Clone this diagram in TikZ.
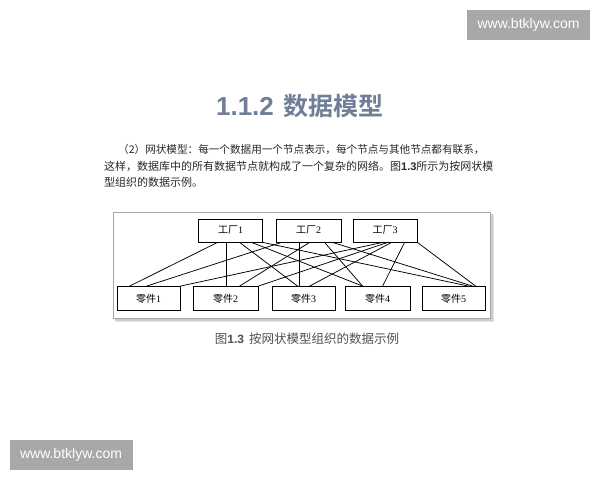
\documentclass[tikz,border=0pt]{standalone}
\usepackage{fontspec}
\newfontfamily\cjk{Noto Sans CJK SC}
\newfontfamily\cjkb{Noto Sans CJK SC Bold}
\newfontfamily\lat{Liberation Sans}
\newfontfamily\latser{Liberation Serif}
\definecolor{titlecol}{RGB}{112,126,152}
\definecolor{wmgray}{RGB}{168,168,168}
\definecolor{txtcol}{RGB}{40,40,40}
\definecolor{capcol}{RGB}{80,80,80}
\begin{document}
\begin{tikzpicture}[x=1pt,y=-1pt,
  box/.style={draw=black, line width=0.8pt, fill=white, inner sep=0pt, minimum height=23pt, font=\cjk\fontsize{10}{10}\selectfont},
  link/.style={draw=black, line width=0.75pt},
  wm/.style={fill=wmgray, text=white, inner sep=0pt, minimum width=123pt, minimum height=30pt, font=\lat\fontsize{14}{14}\selectfont},
  para/.style={anchor=west, inner sep=0pt, text=txtcol}]
\useasboundingbox (0,0) rectangle (600,480);
\fill[white] (0,0) rectangle (600,480);

% watermarks
\node[wm] (wm1) at (528.5,25) {www.btklyw.com};
\node[wm] (wm2) at (71,455) {www.btklyw.com};

% title
\node[inner sep=0pt, text=titlecol] (title) at (300,106) {{\lat\bfseries\fontsize{26}{26}\selectfont 1.1.2}\hspace{10pt}{\cjkb\fontsize{25}{25}\selectfont 数据模型}};

% paragraph
\node[para, font=\cjk\fontsize{10.6}{11}\selectfont] (l1) at (118,150) {（2）网状模型：每一个数据用一个节点表示，每个节点与其他节点都有联系，};
\node[para, font=\cjk\fontsize{11}{11}\selectfont] (l2) at (104,166) {这样，数据库中的所有数据节点就构成了一个复杂的网络。图{\lat\bfseries 1.3}所示为按网状模};
\node[para, font=\cjk\fontsize{11}{11}\selectfont] (l3) at (104,182) {型组织的数据示例。};

% frame with shadow
\fill[black!10] (116,215) rectangle (494,322);
\fill[black!20] (115,214) rectangle (492.5,320.5);
\fill[black!30] (114,213) rectangle (491,319);
\draw[black!35, fill=white] (113,212) rectangle (490,318);

% factories
\node[box, minimum width=64pt] (f1) at (230.5,230.5) {工厂{\latser 1}};
\node[box, minimum width=65pt] (f2) at (308.5,230.5) {工厂{\latser 2}};
\node[box, minimum width=64pt] (f3) at (385,230.5) {工厂{\latser 3}};

% parts
\node[box, minimum width=63pt, minimum height=24pt] (p1) at (148.5,298.5) {零件{\latser 1}};
\node[box, minimum width=65pt, minimum height=24pt] (p2) at (225.5,298.5) {零件{\latser 2}};
\node[box, minimum width=63pt, minimum height=24pt] (p3) at (303.5,298.5) {零件{\latser 3}};
\node[box, minimum width=65pt, minimum height=24pt] (p4) at (377.5,298.5) {零件{\latser 4}};
\node[box, minimum width=63pt, minimum height=24pt] (p5) at (453.5,298.5) {零件{\latser 5}};

% links from factory 1
\draw[link] ([xshift=19.5pt]f1.south west) -- ([xshift=13pt]p1.north west);
\draw[link] ([xshift=28.5pt]f1.south west) -- ([xshift=34pt]p2.north west);
\draw[link] ([xshift=41.5pt]f1.south west) -- ([xshift=26pt]p3.north west);
\draw[link] ([xshift=53.5pt]f1.south west) -- ([xshift=18pt]p4.north west);
\draw[link] (f1.south east) -- ([xshift=47pt]p5.north west);
% links from factory 2
\draw[link] ([xshift=6pt]f2.south west) -- ([xshift=30pt]p1.north west);
\draw[link] ([xshift=34pt]f2.south west) -- ([xshift=47pt]p2.north west);
\draw[link] ([xshift=24pt]f2.south west) -- ([xshift=28pt]p3.north west);
\draw[link] ([xshift=49pt]f2.south west) -- ([xshift=18pt]p4.north west);
\draw[link] ([xshift=57pt]f2.south west) -- ([xshift=51pt]p5.north west);
% links from factory 3
\draw[link] ([xshift=30pt]f3.south west) -- (p1.north east);
\draw[link] ([xshift=35pt]f3.south west) -- (p2.north east);
\draw[link] ([xshift=39pt]f3.south west) -- ([xshift=38pt]p3.north west);
\draw[link] ([xshift=52pt]f3.south west) -- ([xshift=38pt]p4.north west);
\draw[link] (f3.south east) -- ([xshift=54pt]p5.north west);

% caption
\node[inner sep=0pt, text=capcol] (cap) at (307,339) {{\cjk\fontsize{12.5}{12}\selectfont 图}{\lat\bfseries\fontsize{12}{12}\selectfont 1.3}\hspace{5pt}{\cjk\fontsize{12.5}{12}\selectfont 按网状模型组织的数据示例}};
\end{tikzpicture}
\end{document}
